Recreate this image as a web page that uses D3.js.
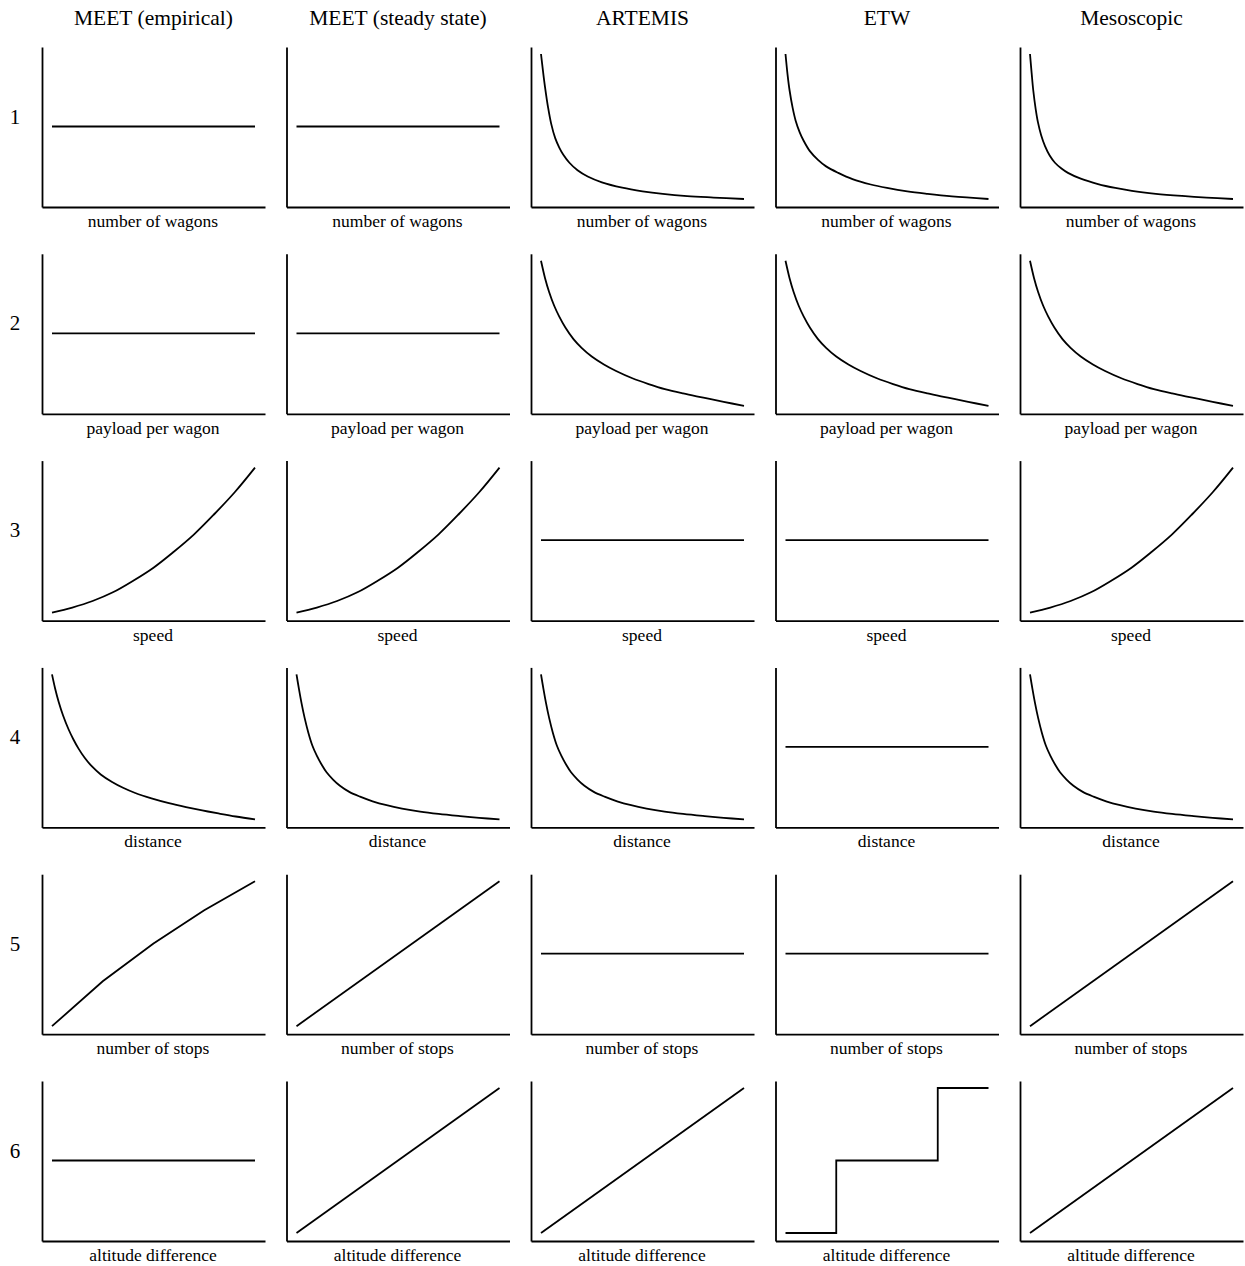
<!DOCTYPE html>
<html>
<head>
<meta charset="utf-8">
<script src="https://cdn.jsdelivr.net/npm/d3@7"></script>
<style>
  html, body { margin: 0; padding: 0; background: #fff; }
  svg { display: block; }
  text { font-family: "Liberation Serif", "Times New Roman", serif; fill: #000; }
</style>
</head>
<body>
<svg id="chart" width="1245" height="1266"></svg>
<script>
// Models compared (columns) and influence factors (rows)
const models = ["MEET (empirical)", "MEET (steady state)", "ARTEMIS", "ETW", "Mesoscopic"];
const rowLabels = ["1", "2", "3", "4", "5", "6"];
const factors = ["number of wagons", "payload per wagon", "speed", "distance", "number of stops", "altitude difference"];

// Qualitative response shapes, normalised to [0,1] on both axes: [factor, consumption]
const constant = [[0, 0.5], [1, 0.5]];
const proportional = [[0, 0], [1, 1]];
const wagonsArtemis = [[0, 1], [0.01, 0.88], [0.02, 0.77], [0.035, 0.63], [0.05, 0.52], [0.07, 0.42], [0.09, 0.355], [0.11, 0.305], [0.14, 0.25], [0.18, 0.198], [0.23, 0.155], [0.3, 0.115], [0.4, 0.078], [0.5, 0.053], [0.6, 0.035], [0.72, 0.02], [0.85, 0.01], [1, 0]];
const wagonsEtw = [[0, 1], [0.01, 0.86], [0.02, 0.75], [0.035, 0.63], [0.05, 0.54], [0.07, 0.46], [0.09, 0.4], [0.12, 0.33], [0.16, 0.27], [0.2, 0.225], [0.26, 0.18], [0.33, 0.137], [0.42, 0.1], [0.5, 0.076], [0.6, 0.052], [0.7, 0.035], [0.82, 0.018], [1, 0]];
const wagonsMeso = [[0, 1], [0.008, 0.87], [0.016, 0.75], [0.028, 0.62], [0.039, 0.53], [0.055, 0.44], [0.074, 0.365], [0.097, 0.3], [0.123, 0.25], [0.155, 0.21], [0.187, 0.18], [0.25, 0.14], [0.335, 0.103], [0.42, 0.076], [0.502, 0.056], [0.62, 0.036], [0.749, 0.021], [0.87, 0.01], [1, 0]];
const payloadDecay = [[0, 1], [0.02, 0.88], [0.04, 0.785], [0.065, 0.69], [0.09, 0.615], [0.12, 0.54], [0.16, 0.46], [0.2, 0.4], [0.25, 0.34], [0.31, 0.285], [0.37, 0.24], [0.45, 0.19], [0.53, 0.15], [0.61, 0.115], [0.7, 0.085], [0.8, 0.056], [0.9, 0.027], [1, 0]];
const speedRise = [[0, 0], [0.1, 0.035], [0.2, 0.08], [0.3, 0.14], [0.4, 0.22], [0.5, 0.31], [0.6, 0.42], [0.7, 0.54], [0.8, 0.68], [0.9, 0.83], [1, 1]];
const distanceEmpirical = [[0, 1], [0.015, 0.905], [0.033, 0.81], [0.055, 0.715], [0.082, 0.62], [0.105, 0.553], [0.13, 0.49], [0.16, 0.427], [0.197, 0.365], [0.24, 0.31], [0.296, 0.258], [0.35, 0.218], [0.41, 0.182], [0.49, 0.145], [0.576, 0.112], [0.66, 0.085], [0.74, 0.062], [0.82, 0.041], [0.905, 0.02], [1, 0]];
const distanceSteep = [[0, 1], [0.012, 0.9], [0.025, 0.8], [0.04, 0.7], [0.058, 0.6], [0.078, 0.51], [0.1, 0.44], [0.125, 0.375], [0.148, 0.325], [0.18, 0.275], [0.214, 0.232], [0.26, 0.19], [0.313, 0.157], [0.375, 0.125], [0.444, 0.098], [0.52, 0.075], [0.609, 0.054], [0.7, 0.038], [0.806, 0.023], [0.9, 0.011], [1, 0]];
const stopsEmpirical = [[0, 0], [0.25, 0.31], [0.5, 0.57], [0.75, 0.8], [1, 1]];
const altitudeSteps = [[0, 0], [0.25, 0.5], [0.75, 1], [1, 1]];

// Which shape each model shows for each factor
const grid = [
  [constant, constant, wagonsArtemis, wagonsEtw, wagonsMeso],
  [constant, constant, payloadDecay, payloadDecay, payloadDecay],
  [speedRise, speedRise, constant, constant, speedRise],
  [distanceEmpirical, distanceSteep, distanceSteep, constant, distanceSteep],
  [stopsEmpirical, proportional, constant, constant, proportional],
  [constant, proportional, proportional, altitudeSteps, proportional]
];

const svg = d3.select("#chart");

// Panel placement
const panelW = 223, panelH = 160;
const colLeft = d3.scaleLinear().domain([0, 4]).range([42, 1020]);
const rowTop = d3.scaleLinear().domain([0, 5]).range([47, 1081]);

function interpolationFor(series) {
  if (series === altitudeSteps) return d3.curveStepAfter;
  if (series === stopsEmpirical || series.length === 2) return d3.curveLinear;
  return d3.curveCatmullRom.alpha(0.5);
}

// Column titles
svg.selectAll("text.title")
  .data(models)
  .join("text")
  .attr("class", "title")
  .attr("x", (d, i) => colLeft(i) + panelW / 2)
  .attr("y", 25)
  .attr("text-anchor", "middle")
  .style("font-size", "21.5px")
  .text(d => d);

// Row numbers
svg.selectAll("text.rowlabel")
  .data(rowLabels)
  .join("text")
  .attr("class", "rowlabel")
  .attr("x", 15)
  .attr("y", (d, i) => rowTop(i) + panelH / 2 - 3.5)
  .attr("text-anchor", "middle")
  .style("font-size", "21px")
  .text(d => d);

grid.forEach((row, r) => {
  row.forEach((series, c) => {
    const left = colLeft(c), top = rowTop(r);
    const g = svg.append("g").attr("transform", `translate(${left},${top})`);

    const x = d3.scaleLinear().domain([0, 1]).range([10, panelW - 10]);
    const y = d3.scaleLinear().domain([0, 1]).range([panelH - 8, 7]);

    // Bare axes: only the axis lines, no ticks
    const xAxisScale = d3.scaleLinear().domain([0, 1]).range([0, panelW]);
    const yAxisScale = d3.scaleLinear().domain([0, 1]).range([panelH, 0]);
    g.append("g")
      .attr("transform", `translate(0,${panelH})`)
      .call(d3.axisBottom(xAxisScale).tickValues([]).tickSizeOuter(0))
      .call(a => a.select(".domain").attr("stroke", "#000").attr("stroke-width", 1.8));
    g.append("g")
      .call(d3.axisLeft(yAxisScale).tickValues([]).tickSizeOuter(0))
      .call(a => a.select(".domain").attr("stroke", "#000").attr("stroke-width", 1.8));

    const line = d3.line()
      .x(d => x(d[0]))
      .y(d => y(d[1]))
      .curve(interpolationFor(series));

    g.append("path")
      .datum(series)
      .attr("d", line)
      .attr("fill", "none")
      .attr("stroke", "#000")
      .attr("stroke-width", 1.8)
      .attr("stroke-linejoin", "miter");

    g.append("text")
      .attr("x", panelW / 2 - 0.5)
      .attr("y", panelH + 20)
      .attr("text-anchor", "middle")
      .style("font-size", "17.5px")
      .text(factors[r]);
  });
});
</script>
</body>
</html>
